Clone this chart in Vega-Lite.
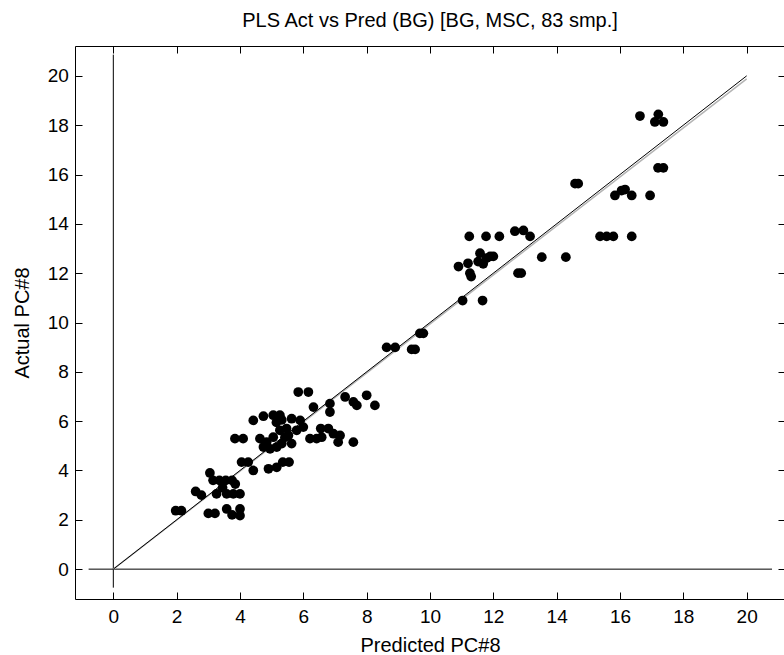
{
  "$schema": "https://vega.github.io/schema/vega-lite/v6.json",
  "width": 710,
  "height": 553,
  "autosize": {"type": "none"},
  "padding": {"left": 75, "top": 46, "right": 0, "bottom": 56},
  "background": "white",
  "config": {
    "font": "Liberation Sans",
    "view": {"stroke": "black", "strokeWidth": 1},
    "axis": {
      "domain": false,
      "grid": false,
      "tickColor": "black",
      "tickWidth": 1,
      "tickSize": -7,
      "labelColor": "black",
      "labelFont": "Liberation Sans",
      "labelFontSize": 19,
      "titleFont": "Liberation Sans",
      "titleFontSize": 20,
      "titleFontWeight": "normal",
      "titleColor": "black"
    }
  },
  "title": {
    "text": "PLS Act vs Pred (BG) [BG, MSC, 83 smp.]",
    "font": "Liberation Sans",
    "fontSize": 20,
    "fontWeight": "normal",
    "color": "black",
    "anchor": "middle",
    "baseline": "alphabetic",
    "offset": 25,
    "dy": 26
  },
  "datasets": {
    "axlines": [
      {"x1": -0.78, "x2": 20.8, "y1": 0, "y2": 0},
      {"x1": 0, "x2": 0, "y1": -0.75, "y2": 20.86}
    ],
    "lines": [
      {"series": "fit", "x": 0, "y": 0},
      {"series": "fit", "x": 20, "y": 19.88},
      {"series": "ref", "x": 0, "y": 0},
      {"series": "ref", "x": 20, "y": 20}
    ],
    "points": [
      {"pred": 1.97, "act": 2.37}, {"pred": 2.15, "act": 2.37}, {"pred": 2.6, "act": 3.15}, {"pred": 2.78, "act": 3.0},
      {"pred": 3.0, "act": 2.26}, {"pred": 3.21, "act": 2.26}, {"pred": 3.58, "act": 2.44}, {"pred": 3.75, "act": 2.2},
      {"pred": 4.0, "act": 2.44}, {"pred": 4.0, "act": 2.17}, {"pred": 3.05, "act": 3.9}, {"pred": 3.15, "act": 3.6},
      {"pred": 3.35, "act": 3.6}, {"pred": 3.55, "act": 3.6}, {"pred": 3.75, "act": 3.6}, {"pred": 3.85, "act": 3.45},
      {"pred": 3.26, "act": 3.05}, {"pred": 3.58, "act": 3.05}, {"pred": 3.79, "act": 3.05}, {"pred": 4.0, "act": 3.05},
      {"pred": 3.45, "act": 3.3}, {"pred": 4.05, "act": 4.34}, {"pred": 4.26, "act": 4.34}, {"pred": 4.42, "act": 4.0},
      {"pred": 4.9, "act": 4.07}, {"pred": 5.16, "act": 4.13}, {"pred": 5.35, "act": 4.34}, {"pred": 5.55, "act": 4.34},
      {"pred": 3.84, "act": 5.29}, {"pred": 4.1, "act": 5.29}, {"pred": 4.42, "act": 6.03}, {"pred": 4.74, "act": 6.2},
      {"pred": 5.05, "act": 6.24}, {"pred": 5.26, "act": 6.24}, {"pred": 5.32, "act": 6.05}, {"pred": 5.63, "act": 6.1},
      {"pred": 5.9, "act": 6.03}, {"pred": 6.0, "act": 5.76}, {"pred": 5.79, "act": 5.63}, {"pred": 4.63, "act": 5.29},
      {"pred": 4.84, "act": 5.15}, {"pred": 5.05, "act": 5.35}, {"pred": 5.26, "act": 5.63}, {"pred": 5.42, "act": 5.35},
      {"pred": 5.63, "act": 5.09}, {"pred": 4.74, "act": 4.95}, {"pred": 4.95, "act": 4.88}, {"pred": 5.16, "act": 4.95},
      {"pred": 5.32, "act": 5.09}, {"pred": 5.53, "act": 5.42}, {"pred": 5.47, "act": 5.7}, {"pred": 5.15, "act": 5.95},
      {"pred": 5.84, "act": 7.18}, {"pred": 6.16, "act": 7.18}, {"pred": 6.32, "act": 6.57}, {"pred": 6.84, "act": 6.71},
      {"pred": 6.84, "act": 6.37}, {"pred": 7.32, "act": 6.98}, {"pred": 7.58, "act": 6.78}, {"pred": 7.69, "act": 6.64},
      {"pred": 8.0, "act": 7.05}, {"pred": 8.26, "act": 6.64}, {"pred": 6.21, "act": 5.29}, {"pred": 6.42, "act": 5.29},
      {"pred": 6.58, "act": 5.35}, {"pred": 6.79, "act": 5.7}, {"pred": 6.95, "act": 5.49}, {"pred": 7.16, "act": 5.42},
      {"pred": 7.1, "act": 5.15}, {"pred": 7.58, "act": 5.15}, {"pred": 6.55, "act": 5.7},
      {"pred": 8.63, "act": 8.99}, {"pred": 8.9, "act": 8.99}, {"pred": 9.42, "act": 8.91}, {"pred": 9.53, "act": 8.91},
      {"pred": 9.68, "act": 9.56}, {"pred": 9.79, "act": 9.56}, {"pred": 11.03, "act": 10.89}, {"pred": 11.66, "act": 10.89},
      {"pred": 10.9, "act": 12.27}, {"pred": 11.2, "act": 12.4}, {"pred": 11.26, "act": 12.0}, {"pred": 11.3, "act": 11.86},
      {"pred": 11.58, "act": 12.81}, {"pred": 11.79, "act": 12.61}, {"pred": 11.9, "act": 12.68}, {"pred": 12.0, "act": 12.68},
      {"pred": 11.52, "act": 12.47}, {"pred": 11.68, "act": 12.38}, {"pred": 11.24, "act": 13.49}, {"pred": 11.77, "act": 13.49},
      {"pred": 12.19, "act": 13.49}, {"pred": 12.68, "act": 13.7}, {"pred": 12.95, "act": 13.73}, {"pred": 13.16, "act": 13.49},
      {"pred": 12.78, "act": 12.0}, {"pred": 12.88, "act": 12.0}, {"pred": 13.53, "act": 12.65}, {"pred": 14.29, "act": 12.65},
      {"pred": 14.58, "act": 15.63}, {"pred": 14.68, "act": 15.63}, {"pred": 15.84, "act": 15.15}, {"pred": 16.05, "act": 15.35},
      {"pred": 16.16, "act": 15.39}, {"pred": 16.37, "act": 15.15}, {"pred": 16.95, "act": 15.15}, {"pred": 15.37, "act": 13.49},
      {"pred": 15.58, "act": 13.49}, {"pred": 15.79, "act": 13.49}, {"pred": 16.37, "act": 13.49}, {"pred": 16.63, "act": 18.37},
      {"pred": 17.21, "act": 18.44}, {"pred": 17.1, "act": 18.13}, {"pred": 17.37, "act": 18.13}, {"pred": 17.2, "act": 16.27},
      {"pred": 17.37, "act": 16.27}
    ]
  },
  "layer": [
    {
      "data": {"name": "axlines"},
      "mark": {"type": "rule", "color": "black", "strokeWidth": 1},
      "encoding": {
        "x": {
          "field": "x1", "type": "quantitative",
          "scale": {"domain": [-1.21, 21.21], "nice": false, "zero": false},
          "axis": {
            "orient": "bottom",
            "values": [0, 2, 4, 6, 8, 10, 12, 14, 16, 18, 20],
            "labelBaseline": "alphabetic",
            "labelPadding": 30.7,
            "title": "Predicted PC#8",
            "titleBaseline": "alphabetic",
            "titleX": 355,
            "titleY": 52,
            "titleAnchor": "middle"
          }
        },
        "x2": {"field": "x2"},
        "y": {
          "field": "y1", "type": "quantitative",
          "scale": {"domain": [-1.21, 21.21], "nice": false, "zero": false},
          "axis": {
            "orient": "left",
            "values": [0, 2, 4, 6, 8, 10, 12, 14, 16, 18, 20],
            "labelPadding": 13.7,
            "title": "Actual PC#8",
            "titleAngle": 270,
            "titleBaseline": "alphabetic",
            "titleAlign": "center",
            "titleX": -47,
            "titleY": 276.5
          }
        },
        "y2": {"field": "y2"}
      }
    },
    {
      "data": {"name": "lines"},
      "transform": [{"filter": "datum.series == 'fit'"}],
      "mark": {"type": "line", "color": "#b4b4b4", "strokeWidth": 1.5},
      "encoding": {
        "x": {"field": "x", "type": "quantitative", "scale": {"domain": [-1.21, 21.21], "nice": false, "zero": false}, "axis": null},
        "y": {"field": "y", "type": "quantitative", "scale": {"domain": [-1.21, 21.21], "nice": false, "zero": false}, "axis": null}
      }
    },
    {
      "data": {"name": "lines"},
      "transform": [{"filter": "datum.series == 'ref'"}],
      "mark": {"type": "line", "color": "black", "strokeWidth": 1},
      "encoding": {
        "x": {"field": "x", "type": "quantitative", "scale": {"domain": [-1.21, 21.21], "nice": false, "zero": false}, "axis": null},
        "y": {"field": "y", "type": "quantitative", "scale": {"domain": [-1.21, 21.21], "nice": false, "zero": false}, "axis": null}
      }
    },
    {
      "data": {"name": "points"},
      "mark": {"type": "circle", "color": "black", "opacity": 1, "size": 95},
      "encoding": {
        "x": {
          "field": "pred", "type": "quantitative",
          "scale": {"domain": [-1.21, 21.21], "nice": false, "zero": false},
          "axis": {"orient": "top", "values": [0, 2, 4, 6, 8, 10, 12, 14, 16, 18, 20], "labels": false, "title": null}
        },
        "y": {
          "field": "act", "type": "quantitative",
          "scale": {"domain": [-1.21, 21.21], "nice": false, "zero": false},
          "axis": {"orient": "right", "values": [0, 2, 4, 6, 8, 10, 12, 14, 16, 18, 20], "labels": false, "title": null}
        }
      }
    }
  ],
  "resolve": {"axis": {"x": "independent", "y": "independent"}}
}
